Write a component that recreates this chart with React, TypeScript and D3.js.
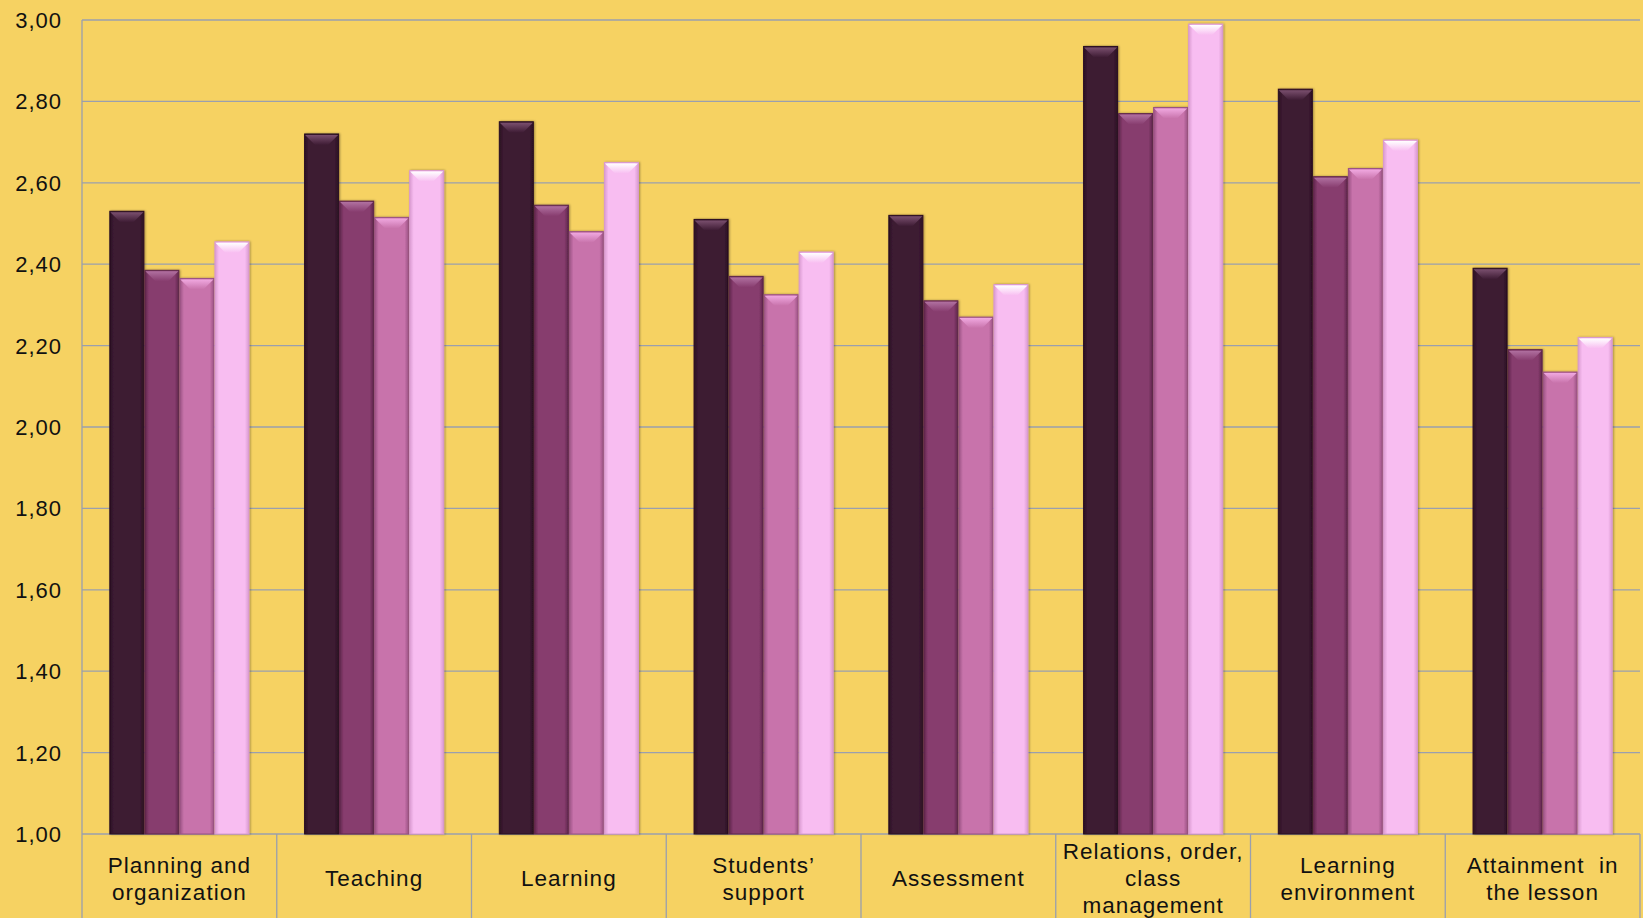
import React from "react";
import * as d3 from "d3";

const categories = [
  ["Planning and", "organization"],
  ["Teaching"],
  ["Learning"],
  ["Students’", "support"],
  ["Assessment"],
  ["Relations, order,", "class", "management"],
  ["Learning", "environment"],
  ["Attainment  in", "the lesson"],
];
const seriesA = [2.53, 2.72, 2.75, 2.51, 2.52, 2.935, 2.83, 2.39];
const seriesB = [2.385, 2.555, 2.545, 2.37, 2.31, 2.77, 2.615, 2.19];
const seriesC = [2.365, 2.515, 2.48, 2.325, 2.27, 2.785, 2.635, 2.135];
const seriesD = [2.455, 2.63, 2.65, 2.43, 2.35, 2.99, 2.705, 2.22];
const yTicks = [1.0, 1.2, 1.4, 1.6, 1.8, 2.0, 2.2, 2.4, 2.6, 2.8, 3.0];

const seriesList = [seriesA, seriesB, seriesC, seriesD];
const colors = ["#3d1b33", "#873c6e", "#c873ab", "#f8bdf1"];
const tops = ["#7a4f6e", "#b070a0", "#f0a8e0", "#ffffff"];
const edges = ["#2a1022", "#5e264b", "#9a5283", "#d99ad0"];

const W = 1643, H = 918;
const left = 82, right = 1640, top = 20, bottom = 834;

export default function App() {
  const catKeys = categories.map((_, i) => String(i));
  const x0 = d3.scaleBand<string>().domain(catKeys).range([left, right]).padding(0);
  const x1 = d3
    .scaleBand<string>()
    .domain(["0", "1", "2", "3"])
    .range([0, x0.bandwidth()])
    .paddingInner(0)
    .paddingOuter(0.78);
  const y = d3.scaleLinear().domain([1, 3]).range([bottom, top]);
  const fmt = (v: number) => v.toFixed(2).replace(".", ",");
  const bw = x1.bandwidth();
  const bev = 11;

  return (
    <div style={{ position: "fixed", left: 0, top: 0 }}>
      <svg width={W} height={H} style={{ display: "block" }}>
        <defs>
          {colors.map((c, i) => (
            <linearGradient key={i} id={`g${i}`} x1="0" x2="1" y1="0" y2="0">
              <stop offset="0" stopColor={edges[i]} />
              <stop offset="0.12" stopColor={c} />
              <stop offset="0.88" stopColor={c} />
              <stop offset="1" stopColor={edges[i]} />
            </linearGradient>
          ))}
          {colors.map((c, i) => (
            <linearGradient key={i} id={`t${i}`} x1="0" x2="0" y1="0" y2="1">
              <stop offset="0" stopColor={tops[i]} />
              <stop offset="1" stopColor={c} />
            </linearGradient>
          ))}
          <filter id="sh" x="-20%" y="-5%" width="140%" height="110%">
            <feDropShadow dx="1" dy="0" stdDeviation="1.2" floodColor="#000" floodOpacity="0.35" />
          </filter>
        </defs>
        <rect x={0} y={0} width={W} height={H} fill="#f6d262" />
        {yTicks.map((t) => (
          <g key={t}>
            <line x1={left} x2={right} y1={y(t)} y2={y(t)} stroke="#9a9fae" strokeWidth={1.3} />
            <text
              x={62}
              y={y(t)}
              dy="0.36em"
              textAnchor="end"
              fontFamily="Liberation Sans, Arial, sans-serif"
              fontSize={22}
              letterSpacing={1}
              fill="#111"
            >
              {fmt(t)}
            </text>
          </g>
        ))}
        <line x1={left} x2={left} y1={top} y2={H} stroke="#9a9fae" strokeWidth={1.3} />
        {catKeys.map((k) => (
          <line
            key={k}
            x1={(x0(k) as number) + x0.bandwidth()}
            x2={(x0(k) as number) + x0.bandwidth()}
            y1={bottom}
            y2={H}
            stroke="#9a9fae"
            strokeWidth={1.3}
          />
        ))}
        {catKeys.map((k, ci) => (
          <g key={k}>
            {seriesList.map((s, si) => {
              const bx = (x0(k) as number) + (x1(String(si)) as number);
              const by = y(s[ci]);
              const h = bottom - by;
              return (
                <g key={si}>
                  <rect
                    x={bx + 0.5}
                    y={by}
                    width={bw - 1}
                    height={h}
                    fill={`url(#g${si})`}
                    stroke={edges[si]}
                    strokeWidth={1}
                    filter="url(#sh)"
                  />
                  <polygon
                    points={`${bx + 1},${by + 1} ${bx + bw - 1},${by + 1} ${bx + bw - bev},${by + bev} ${bx + bev},${by + bev}`}
                    fill={`url(#t${si})`}
                  />
                </g>
              );
            })}
            {categories[ci].map((line, li) => {
              const n = categories[ci].length;
              const cy = 878 + (li - (n - 1) / 2) * 27;
              return (
                <text
                  key={li}
                  x={(x0(k) as number) + x0.bandwidth() / 2}
                  y={cy}
                  dy="0.36em"
                  textAnchor="middle"
                  fontFamily="Liberation Sans, Arial, sans-serif"
                  fontSize={22.5}
                  letterSpacing={1}
                  fill="#111"
                  style={{ whiteSpace: "pre" }}
                >
                  {line}
                </text>
              );
            })}
          </g>
        ))}
      </svg>
    </div>
  );
}
